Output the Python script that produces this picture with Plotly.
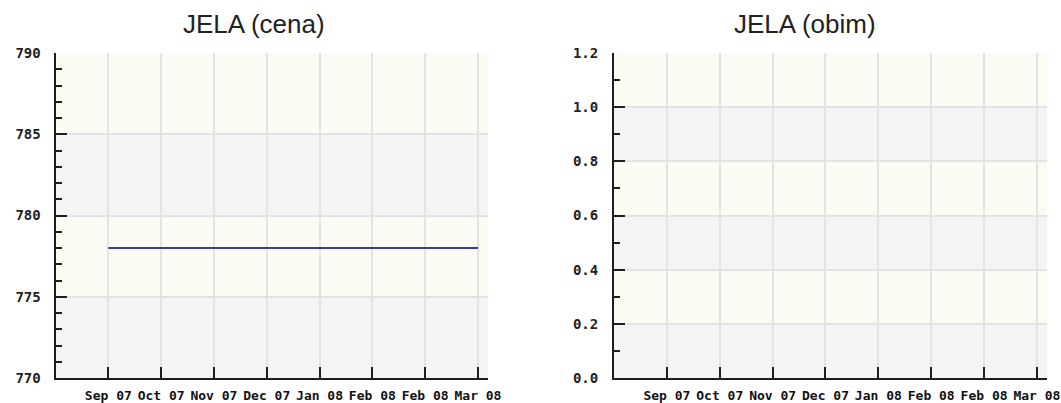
import plotly.graph_objects as go

W, H = 1061, 403

months = ["Sep 07", "Oct 07", "Nov 07", "Dec 07", "Jan 08", "Feb 08", "Feb 08", "Mar 08"]
price = [778, 778, 778, 778, 778, 778, 778, 778]
volume = []  # no volume traded

price_ticks = [770, 775, 780, 785, 790]
volume_ticks = [0.0, 0.2, 0.4, 0.6, 0.8, 1.0, 1.2]

CREAM = "#fbfbf3"
GREY = "#f4f4f4"
GRID = "#e3e3e3"
AXIS = "#1e1e1e"
LINE = "#3a3aa6"
XLABEL_FONT = dict(family="DejaVu Sans Mono", size=13, color="#111", weight="bold")
YLABEL_FONT = dict(family="DejaVu Sans Mono", size=14, color="#222", weight="bold")

def px_x(p):
    return p / W

def px_y(p):
    return 1 - p / H

fig = go.Figure()
idx = list(range(len(months)))
fig.add_trace(go.Scatter(x=idx, y=price, mode="lines",
                         line=dict(color=LINE, width=2),
                         xaxis="x", yaxis="y", showlegend=False, hoverinfo="skip"))
fig.add_trace(go.Scatter(x=idx[:len(volume)], y=volume, mode="lines",
                         line=dict(color=LINE, width=2),
                         xaxis="x2", yaxis="y2", showlegend=False, hoverinfo="skip"))

xr = [-1, len(months) - 1 + 0.19]
common_x = dict(range=xr, tickvals=idx, ticktext=months, showgrid=True,
                gridcolor=GRID, gridwidth=2, showline=True, linecolor=AXIS,
                linewidth=2, ticks="inside", ticklen=11, tickwidth=2,
                tickcolor=AXIS, tickfont=XLABEL_FONT, zeroline=False,
                fixedrange=True, ticklabelstandoff=4, automargin=False)
common_y = dict(showgrid=True, gridcolor=GRID, gridwidth=2, showline=True,
                linecolor=AXIS, linewidth=2, ticks="inside", ticklen=11,
                tickwidth=2, tickcolor=AXIS, tickfont=YLABEL_FONT,
                zeroline=False, automargin=False, fixedrange=True)
fig.update_layout(
    xaxis=dict(domain=[px_x(55.5), px_x(488)], anchor="y", **common_x),
    xaxis2=dict(domain=[px_x(614), px_x(1047)], anchor="y2", **common_x),
    yaxis=dict(domain=[px_y(378), px_y(53)], anchor="x", range=[770, 790],
               tickvals=price_ticks,
               minor=dict(dtick=1, ticks="inside", ticklen=6, tickwidth=2,
                          tickcolor=AXIS, showgrid=False),
               ticklabelstandoff=10, **common_y),
    yaxis2=dict(domain=[px_y(378), px_y(53)], anchor="x2", range=[0, 1.2],
                tickvals=volume_ticks, tickformat=".1f",
                minor=dict(dtick=0.1, ticks="inside", ticklen=6, tickwidth=2,
                           tickcolor=AXIS, showgrid=False),
                ticklabelstandoff=11, **common_y),
    width=W, height=H, autosize=False,
    margin=dict(l=0, r=0, t=0, b=0, autoexpand=False),
    paper_bgcolor="white", plot_bgcolor="white",
)

shapes = []
for ticks, xref, yref in [(price_ticks, "x domain", "y"), (volume_ticks, "x2 domain", "y2")]:
    top_down = sorted(ticks, reverse=True)
    for i in range(len(top_down) - 1):
        shapes.append(dict(type="rect", xref=xref, yref=yref, x0=0, x1=1,
                           y0=top_down[i + 1], y1=top_down[i],
                           fillcolor=CREAM if i % 2 == 0 else GREY,
                           line=dict(width=0), layer="below"))
fig.update_layout(shapes=shapes)

fig.add_annotation(text="JELA (cena)", x=px_x(254), y=px_y(24), xref="paper", yref="paper",
                   showarrow=False, xanchor="center", yanchor="middle",
                   font=dict(family="Liberation Sans", size=26, color="#222"))
fig.add_annotation(text="JELA (obim)", x=px_x(805), y=px_y(24), xref="paper", yref="paper",
                   showarrow=False, xanchor="center", yanchor="middle",
                   font=dict(family="Liberation Sans", size=26, color="#222"))

fig.write_html("out.html",
               config={"displayModeBar": False, "staticPlot": True},
               post_script="document.body.style.margin='0';document.body.style.overflow='hidden';")
